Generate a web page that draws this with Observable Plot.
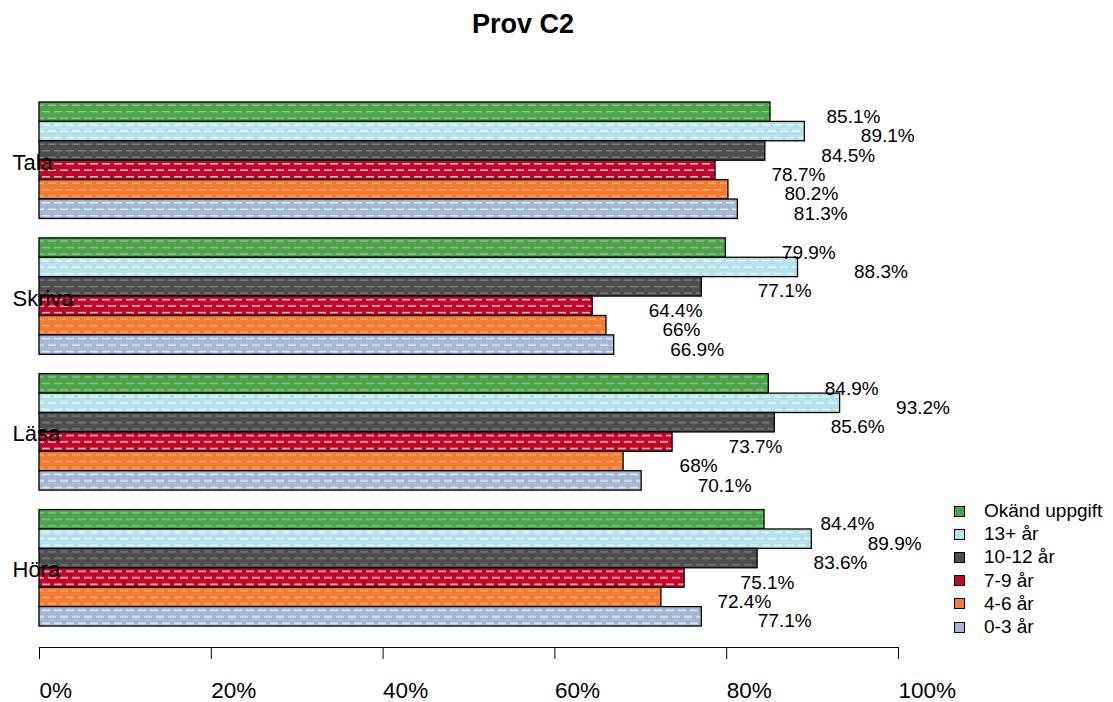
<!DOCTYPE html>
<html><head><meta charset="utf-8">
<script src="https://cdn.jsdelivr.net/npm/d3@7"></script>
<script src="https://cdn.jsdelivr.net/npm/@observablehq/plot@0.6"></script>
<style>
body{margin:0;background:#fff;font-family:"Liberation Sans",Arial,Helvetica,sans-serif;}
#wrap{position:relative;width:1113px;height:702px;overflow:hidden;}
#title{height:50px;width:1046px;text-align:center;font-weight:bold;font-size:27px;line-height:27px;padding-top:11px;box-sizing:border-box;color:#000;}
#legend{position:absolute;left:0;top:0;}
.lrow{position:absolute;left:954px;height:24px;display:flex;align-items:center;font-size:19px;white-space:nowrap;}
.sw{width:11px;height:11px;border:1px solid #000;margin-right:19px;box-sizing:border-box;}
</style></head><body>
<div id="wrap"><div id="title">Prov C2</div><div id="chart"></div><div id="legend"></div></div>
<script>
const categories = ["Tala", "Skriva", "Läsa", "Höra"];
const series = ["Okänd uppgift", "13+ år", "10-12 år", "7-9 år", "4-6 år", "0-3 år"];
const tala   = [85.1, 89.1, 84.5, 78.7, 80.2, 81.3];
const skriva = [79.9, 88.3, 77.1, 64.4, 66, 66.9];
const lasa   = [84.9, 93.2, 85.6, 73.7, 68, 70.1];
const hora   = [84.4, 89.9, 83.6, 75.1, 72.4, 77.1];
const xTicks = [0, 20, 40, 60, 80, 100];

// styles
const colors = ["#4DA34A", "#B4E2E8", "#4D4D4D", "#C0062A", "#F07D31", "#A5B8D2"];
const dashOpacity = [0.35, 0.75, 0.25, 0.75, 0.3, 0.7];

const valuesByCat = [tala, skriva, lasa, hora];
const data = [];
categories.forEach((c, ci) => series.forEach((s, si) => data.push({category: c, series: s, si, value: valuesByCat[ci][si]})));

const chart = Plot.plot({
  width: 1113,
  height: 652,
  marginLeft: 39,
  marginRight: 215,
  marginTop: 52,
  marginBottom: 76,
  style: {fontFamily: '"Liberation Sans", Arial, Helvetica, sans-serif', background: "#fff", color: "#000"},
  x: {domain: [0, 100], axis: null},
  y: {domain: series, padding: 0, axis: null, round: false},
  fy: {domain: categories, paddingInner: 1/7, paddingOuter: 0, axis: null, round: false},
  color: {type: "identity"},
  marks: [
    Plot.barX(data, {x: "value", y: "series", fy: "category", fill: d => `url(#hatch${d.si})`, stroke: "#000", strokeWidth: 1.3}),
    Plot.text(data, {x: "value", y: "series", fy: "category", text: d => `${d.value}%`, dx: 56, dy: 4.5, textAnchor: "start", fontSize: 19, fill: "#000"}),
    Plot.text(categories, {fy: d => d, text: d => d, frameAnchor: "left", textAnchor: "start", dx: -27, dy: 2, fontSize: 22, fill: "#000"}),
    Plot.axisX(xTicks, {anchor: "bottom", tickSize: 12, tickPadding: 23, dy: 21, textAnchor: "start", fontSize: 22.5, tickFormat: d => `${d}%`, label: null, stroke: "#000", fill: "#000"}),
    Plot.frame({anchor: "bottom", dy: 21, facetAnchor: "bottom", stroke: "#000"})
  ]
});

// hatch patterns
const ns = "http://www.w3.org/2000/svg";
const svg = chart.tagName.toLowerCase() === "svg" ? chart : chart.querySelector("svg");
const defs = document.createElementNS(ns, "defs");
colors.forEach((c, i) => {
  const p = document.createElementNS(ns, "pattern");
  p.setAttribute("id", `hatch${i}`);
  p.setAttribute("patternUnits", "userSpaceOnUse");
  p.setAttribute("width", 12);
  p.setAttribute("height", 13);
  const r = document.createElementNS(ns, "rect");
  r.setAttribute("width", 12); r.setAttribute("height", 13); r.setAttribute("fill", c);
  p.appendChild(r);
  const path = document.createElementNS(ns, "path");
  path.setAttribute("d", "M0,3.2H8M6,9.7H12M0,9.7H2");
  path.setAttribute("stroke", "#fff");
  path.setAttribute("stroke-opacity", dashOpacity[i]);
  path.setAttribute("stroke-width", 1.4);
  p.appendChild(path);
  defs.appendChild(p);
});
svg.insertBefore(defs, svg.firstChild);
document.getElementById("chart").appendChild(chart);

// legend
const leg = document.getElementById("legend");
series.forEach((s, i) => {
  const row = document.createElement("div");
  row.className = "lrow";
  row.style.top = (511 + i * 23.2 - 12) + "px";
  const sw = document.createElement("div");
  sw.className = "sw"; sw.style.background = colors[i];
  const t = document.createElement("span"); t.textContent = s;
  row.appendChild(sw); row.appendChild(t);
  leg.appendChild(row);
});
</script>
</body></html>
